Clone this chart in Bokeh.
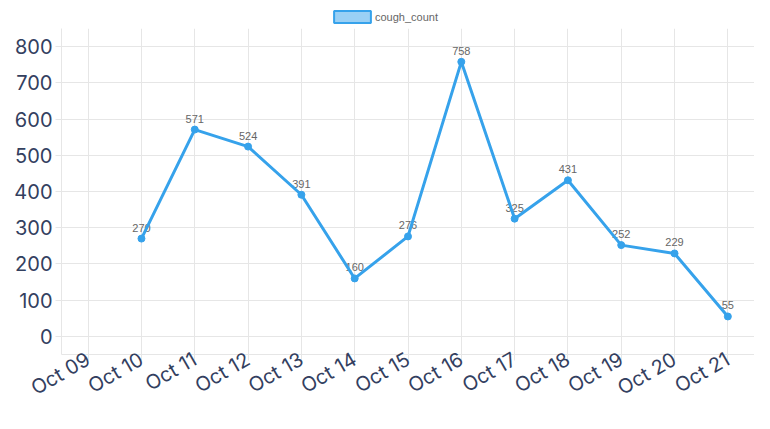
from bokeh.plotting import figure
from bokeh.layouts import column
from bokeh.models import ColumnDataSource, FactorRange, Range1d, FixedTicker, Legend, LegendItem
from bokeh.core.properties import value
from bokeh.embed import file_html
from bokeh.resources import INLINE
import math

categories = ["Oct 09", "Oct 10", "Oct 11", "Oct 12", "Oct 13", "Oct 14", "Oct 15",
              "Oct 16", "Oct 17", "Oct 18", "Oct 19", "Oct 20", "Oct 21"]
dates = ["Oct 10", "Oct 11", "Oct 12", "Oct 13", "Oct 14", "Oct 15",
         "Oct 16", "Oct 17", "Oct 18", "Oct 19", "Oct 20", "Oct 21"]
cough_count = [270, 571, 524, 391, 160, 276, 758, 325, 431, 252, 229, 55]
y_ticks = [0, 100, 200, 300, 400, 500, 600, 700, 800]
series_name = "cough_count"

BLUE = "#36a2eb"
GRID = "#e6e6e6"
TICK_TXT = "#33405f"
FONT = "Inter"

src = ColumnDataSource(dict(x=dates, y=cough_count, lbl=[str(v) for v in cough_count]))

# ---- legend strip -------------------------------------------------------
lg = figure(width=754, height=26, x_range=Range1d(0, 1), y_range=Range1d(0, 1),
            x_axis_type=None, y_axis_type=None, output_backend="svg", toolbar_location=None,
            min_border=0)
lg.outline_line_color = None
lg.grid.visible = False
nan = float("nan")
sw = lg.quad(left=[nan], right=[nan], top=[nan], bottom=[nan], fill_color="#9ad0f5",
             line_color=BLUE, line_width=2)
legend = Legend(items=[LegendItem(label=value(series_name), renderers=[sw])],
                orientation="horizontal", location=(268, 2),
                glyph_width=46, glyph_height=15, label_standoff=0, label_height=12,
                padding=0, margin=0, border_line_color=None, background_fill_alpha=0,
                label_text_font="Liberation Sans", label_text_font_size="11px",
                label_text_color="#666666")
lg.add_layout(legend, "center")

# ---- main chart ---------------------------------------------------------
p = figure(x_range=FactorRange(factors=categories), y_range=Range1d(-50, 850),
           width=754, height=387, output_backend="svg", toolbar_location=None,
           min_border_left=61, min_border_right=0, min_border_top=2, min_border_bottom=40)
p.outline_line_color = None
p.background_fill_color = "white"

p.yaxis.ticker = FixedTicker(ticks=y_ticks)
p.yaxis.minor_tick_line_color = None
for ax in (p.xaxis[0], p.yaxis[0]):
    ax.axis_line_color = GRID
    ax.major_tick_line_color = GRID
    ax.major_tick_out = 6
    ax.major_tick_in = 0
    ax.major_label_text_font = FONT
    ax.major_label_text_font_size = "20px"
    ax.major_label_text_color = TICK_TXT
p.yaxis.major_label_standoff = 3
p.xaxis.major_label_standoff = -3
p.xaxis.major_label_orientation = math.pi / 6

p.xgrid.grid_line_color = GRID
p.ygrid.grid_line_color = GRID

p.text(x="x", y="y", text="lbl", source=src, text_align="center", text_baseline="bottom",
       y_offset=-7, text_font=value("Liberation Sans"), text_font_size="11px",
       text_color="#666666")
p.line(x="x", y="y", source=src, line_color=BLUE, line_width=3)
p.scatter(x="x", y="y", source=src, size=7, fill_color=BLUE, line_color=BLUE)

layout = column(lg, p, spacing=0)
open("out.html", "w").write(file_html(layout, INLINE))
